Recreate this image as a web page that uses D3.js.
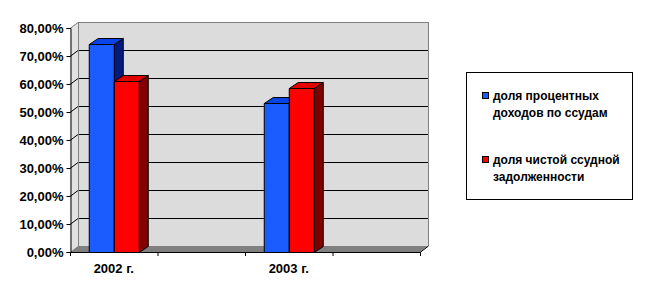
<!DOCTYPE html>
<html>
<head>
<meta charset="utf-8">
<script src="https://cdn.jsdelivr.net/npm/d3@7"></script>
<style>
  body { margin: 0; background: #fff; }
  text { font-family: "Liberation Sans", Arial, sans-serif; font-weight: bold; }
</style>
</head>
<body>
<svg id="chart" width="647" height="296"></svg>
<script>
// data
var categories = ['2002 г.', '', '2003 г.', ''];
var seriesNames = ['доля процентных доходов по ссудам', 'доля чистой ссудной задолженности'];
var interestShare = [0.743, null, 0.531, null];
var loanShare = [0.611, null, 0.585, null];
var yTicks = [0, 0.1, 0.2, 0.3, 0.4, 0.5, 0.6, 0.7, 0.8];

var legendLines = [
    ['доля процентных', 'доходов по ссудам'],
    ['доля чистой ссудной', 'задолженности']
];

drawChart();

function drawChart() {
    var svg = d3.select('#chart');

    var pLeft = 70, pRight = 420, pTop = 28, pBottom = 252;
    var dx = 8, dy = -6;       // depth of the walls
    var bdx = 9, bdy = -6;     // depth of the bars

    var x = d3.scaleBand().domain(d3.range(categories.length)).range([pLeft, pRight]);
    var y = d3.scaleLinear().domain([0, 0.8]).range([pBottom, pTop]);
    var barW = 25;

    // back wall
    svg.append('rect')
        .attr('x', pLeft + dx).attr('y', pTop + dy)
        .attr('width', pRight - pLeft).attr('height', pBottom - pTop)
        .attr('fill', '#dcdcdc');
    // side wall
    svg.append('polygon')
        .attr('points', [[pLeft, pBottom], [pLeft, pTop], [pLeft + dx, pTop + dy], [pLeft + dx, pBottom + dy]].join(' '))
        .attr('fill', '#e2e2e2');
    // floor
    svg.append('polygon')
        .attr('points', [[pLeft, pBottom], [pLeft + dx, pBottom + dy], [pRight + dx, pBottom + dy], [pRight, pBottom]].join(' '))
        .attr('fill', '#808080');

    // gridlines
    var grid = svg.append('g');
    yTicks.slice(1).forEach(function (t) {
        var yy = Math.round(y(t)) + 0.5;
        grid.append('line')
            .attr('x1', pLeft + dx).attr('x2', pRight + dx)
            .attr('y1', yy + dy).attr('y2', yy + dy)
            .attr('stroke', t === 0.8 ? '#808080' : '#000');
        grid.append('line')
            .attr('x1', pLeft).attr('y1', yy)
            .attr('x2', pLeft + dx).attr('y2', yy + dy)
            .attr('stroke', t === 0.8 ? '#808080' : '#000');
    });
    // wall edges
    svg.append('line')
        .attr('x1', pLeft + dx + 0.5).attr('x2', pLeft + dx + 0.5)
        .attr('y1', pTop + dy).attr('y2', pBottom + dy)
        .attr('stroke', '#808080');
    svg.append('line')
        .attr('x1', pRight + dx + 0.5).attr('x2', pRight + dx + 0.5)
        .attr('y1', pTop + dy).attr('y2', pBottom + dy)
        .attr('stroke', '#808080');
    svg.append('line')
        .attr('x1', pRight).attr('y1', pBottom + 0.5)
        .attr('x2', pRight + dx + 0.5).attr('y2', pBottom + dy)
        .attr('stroke', '#000');

    // bars
    var series = [
        { values: interestShare, front: '#1a5cff', topC: '#0a44e6', side: '#001a80', off: 0 },
        { values: loanShare, front: '#ff0000', topC: '#e00000', side: '#800000', off: 1 }
    ];
    var barsG = svg.append('g').attr('stroke', '#000').attr('stroke-width', 1).attr('stroke-linejoin', 'round');
    series.forEach(function (s) {
        s.values.forEach(function (v, i) {
            if (v == null) return;
            var x0 = x(i) + (x.bandwidth() - 2 * barW) / 2 + s.off * barW + 0.5;
            var x1 = x0 + barW;
            var y0 = Math.round(y(v)) + 0.5;
            var yb = pBottom + 0.5;
            var g = barsG.append('g');
            g.append('polygon')
                .attr('points', [[x1, yb], [x1, y0], [x1 + bdx, y0 + bdy], [x1 + bdx, yb + bdy]].join(' '))
                .attr('fill', s.side);
            g.append('polygon')
                .attr('points', [[x0, y0], [x0 + bdx, y0 + bdy], [x1 + bdx, y0 + bdy], [x1, y0]].join(' '))
                .attr('fill', s.topC);
            g.append('rect')
                .attr('x', x0).attr('y', y0)
                .attr('width', barW).attr('height', yb - y0)
                .attr('fill', s.front);
        });
    });

    // axes
    var yAxis = d3.axisLeft(y).tickValues(yTicks).tickSize(4).tickPadding(3)
        .tickFormat(function (d) { return d3.format('.2f')(d * 100).replace('.', ',') + '%'; });
    svg.append('g')
        .attr('transform', 'translate(' + (pLeft + 0.5) + ',0)')
        .call(yAxis)
        .call(function (g) {
            g.select('.domain').attr('stroke', '#000');
            g.selectAll('text').attr('font-size', 13).attr('fill', '#000')
                .attr('font-family', '"Liberation Sans", Arial, sans-serif').attr('font-weight', 'bold');
        });

    var xAxis = d3.axisBottom(x).tickSize(0).tickPadding(11)
        .tickFormat(function (i) { return categories[i]; });
    svg.append('g')
        .attr('transform', 'translate(0,' + (pBottom + 0.5) + ')')
        .call(xAxis)
        .call(function (g) {
            g.select('.domain').attr('stroke', '#000').attr('d', 'M' + pLeft + ',0H' + pRight);
            g.selectAll('text').attr('font-size', 13).attr('fill', '#000')
                .attr('font-family', '"Liberation Sans", Arial, sans-serif').attr('font-weight', 'bold');
        });
    // category boundary ticks
    svg.append('g').selectAll('line')
        .data(d3.range(categories.length + 1))
        .enter().append('line')
        .attr('x1', function (i) { return pLeft + i * x.bandwidth() + 0.5; })
        .attr('x2', function (i) { return pLeft + i * x.bandwidth() + 0.5; })
        .attr('y1', pBottom).attr('y2', pBottom + 4)
        .attr('stroke', '#000');

    // legend
    var legend = svg.append('g');
    legend.append('rect')
        .attr('x', 466.5).attr('y', 72.5).attr('width', 166).attr('height', 127)
        .attr('fill', '#fff').attr('stroke', '#000');
    var legendY = [92, 156];
    series.forEach(function (s, k) {
        legend.append('rect')
            .attr('x', 482.5).attr('y', legendY[k] + 0.5).attr('width', 6).attr('height', 6)
            .attr('fill', s.front).attr('stroke', '#000');
        legendLines[k].forEach(function (line, j) {
            legend.append('text')
                .attr('x', 493).attr('y', legendY[k] + 8 + j * 16.5)
                .attr('font-size', 12)
                .text(line);
        });
    });
}
</script>
</body>
</html>
